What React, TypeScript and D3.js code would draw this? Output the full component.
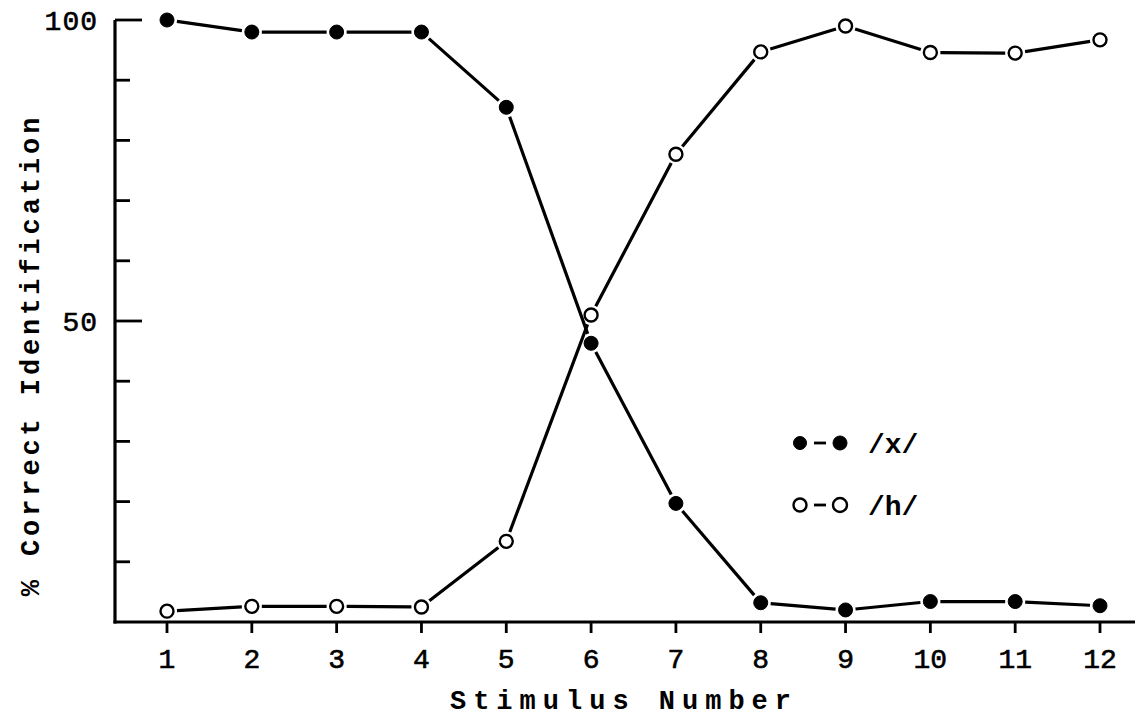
import React from "react";
import * as d3 from "d3";

const stimuli = [1, 2, 3, 4, 5, 6, 7, 8, 9, 10, 11, 12];
const seriesX = [100, 98, 98, 98, 85.5, 46.3, 19.7, 3.2, 2.0, 3.4, 3.4, 2.7];
const seriesH = [1.8, 2.6, 2.6, 2.5, 13.4, 51, 77.7, 94.7, 99, 94.6, 94.5, 96.7];
const yTicks = [0, 10, 20, 30, 40, 50, 60, 70, 80, 90, 100];
const yLabelled = [50, 100];
const legendItems = [
  { label: "/x/", filled: true },
  { label: "/h/", filled: false },
];

const W = 1135;
const H = 721;
const FONT = "'Liberation Mono', 'Courier New', monospace";

export default function App() {
  const x = d3.scaleLinear().domain([1, 12]).range([167, 1100]);
  const y = d3.scaleLinear().domain([0, 100]).range([622, 20]);
  const axisX = 115;
  const axisY = y(0);
  const gap = 10;

  const segments = (vals: number[]) => {
    const out: { x1: number; y1: number; x2: number; y2: number }[] = [];
    for (let i = 0; i < vals.length - 1; i++) {
      const ax = x(stimuli[i]), ay = y(vals[i]);
      const bx = x(stimuli[i + 1]), by = y(vals[i + 1]);
      const len = Math.hypot(bx - ax, by - ay);
      const ux = (bx - ax) / len, uy = (by - ay) / len;
      out.push({ x1: ax + ux * gap, y1: ay + uy * gap, x2: bx - ux * gap, y2: by - uy * gap });
    }
    return out;
  };

  const drawSeries = (vals: number[], filled: boolean, key: string) => (
    <g key={key}>
      {segments(vals).map((s, i) => (
        <line key={i} x1={s.x1} y1={s.y1} x2={s.x2} y2={s.y2} stroke="#000" strokeWidth={3.2} />
      ))}
      {vals.map((v, i) => (
        <circle
          key={i}
          cx={x(stimuli[i])}
          cy={y(v)}
          r={filled ? 7 : 6.5}
          fill={filled ? "#000" : "#fff"}
          stroke="#000"
          strokeWidth={filled ? 1 : 2.4}
        />
      ))}
    </g>
  );

  return (
    <svg width={W} height={H} style={{ position: "absolute", left: 0, top: 0, background: "#fff" }}>
      <rect width={W} height={H} fill="#fff" />
      <line x1={axisX} y1={y(100)} x2={axisX} y2={axisY + 1.5} stroke="#000" strokeWidth={3.2} />
      <line x1={axisX - 1.5} y1={axisY} x2={W} y2={axisY} stroke="#000" strokeWidth={3.2} />
      {yTicks.filter((t) => t > 0).map((t) => (
        <line
          key={t}
          x1={axisX}
          x2={axisX + (yLabelled.includes(t) ? 27 : 15)}
          y1={y(t)}
          y2={y(t)}
          stroke="#000"
          strokeWidth={2.8}
        />
      ))}
      {yLabelled.map((t) => (
        <text
          key={t}
          x={98}
          y={y(t)}
          dy="0.35em"
          textAnchor="end"
          fontFamily={FONT}
          fontSize={28}
          letterSpacing={1}
          fill="#000"
          stroke="#000"
          strokeWidth={0.6}
        >
          {t}
        </text>
      ))}
      {stimuli.map((s) => (
        <g key={s}>
          <line x1={x(s)} x2={x(s)} y1={axisY} y2={axisY + 11} stroke="#000" strokeWidth={2.8} />
          <text
            x={x(s)}
            y={658}
            dy="0.35em"
            textAnchor="middle"
            fontFamily={FONT}
            fontSize={28}
            fill="#000"
            stroke="#000"
            strokeWidth={0.6}
          >
            {s}
          </text>
        </g>
      ))}
      <text
        x={624}
        y={700}
        dy="0.35em"
        textAnchor="middle"
        fontFamily={FONT}
        fontSize={27}
        fontWeight="bold"
        letterSpacing={7}
        fill="#000"
      >
        Stimulus Number
      </text>
      <text
        transform={`translate(30, 355) rotate(-90)`}
        textAnchor="middle"
        dy="0.35em"
        fontFamily={FONT}
        fontSize={27}
        fontWeight="bold"
        letterSpacing={3.9}
        fill="#000"
      >
        % Correct Identification
      </text>
      {drawSeries(seriesX, true, "x")}
      {drawSeries(seriesH, false, "h")}
      {legendItems.map((it, i) => {
        const ly = 443 + i * 62;
        return (
          <g key={it.label}>
            <circle cx={800} cy={ly} r={6.5} fill={it.filled ? "#000" : "#fff"} stroke="#000" strokeWidth={it.filled ? 1 : 2.4} />
            <line x1={814} x2={826} y1={ly} y2={ly} stroke="#000" strokeWidth={2.8} />
            <circle cx={840} cy={ly} r={7} fill={it.filled ? "#000" : "#fff"} stroke="#000" strokeWidth={it.filled ? 1 : 2.4} />
            <text x={868} y={ly} dy="0.35em" fontFamily={FONT} fontSize={28} fontWeight="bold" fill="#000">
              {it.label}
            </text>
          </g>
        );
      })}
    </svg>
  );
}
